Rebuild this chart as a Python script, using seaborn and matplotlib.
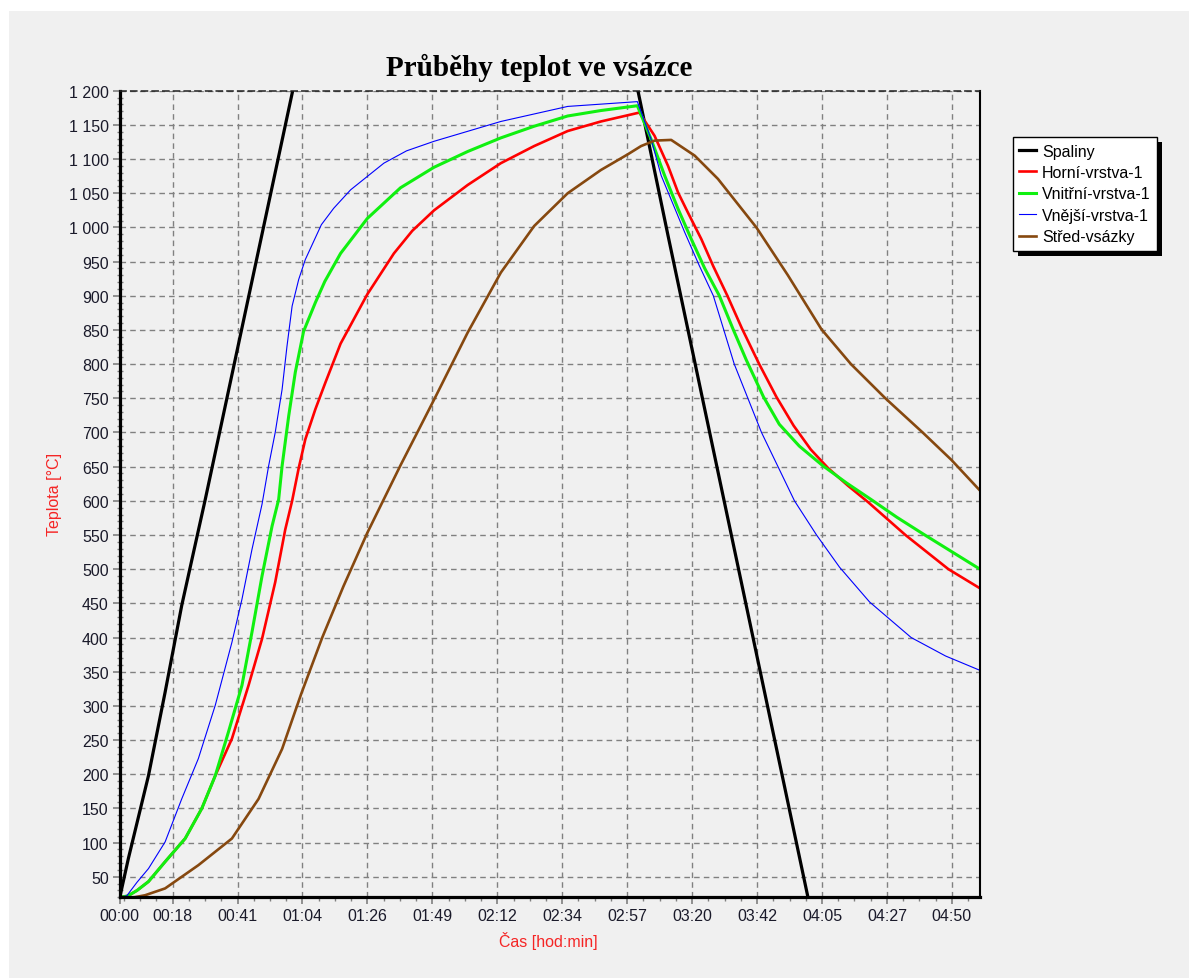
import matplotlib
matplotlib.use("Agg")
import matplotlib.pyplot as plt
from matplotlib.patches import Rectangle
from matplotlib.transforms import IdentityTransform
from matplotlib.ticker import FixedLocator, MultipleLocator
import seaborn as sns

# cas v minutach od zacatku ohrevu, teplota ve °C
spaliny_cas = [0, 3, 10, 15.8, 21.6, 29.8, 60.3, 63, 177.5, 180.7, 191.2, 240]
spaliny_tep = [20, 77, 198, 320, 447, 602, 1200, 1253, 1253, 1200, 988, 20]

horni_cas = [0, 2.8, 6, 10, 15.8, 22.8, 28.6, 33.3, 39.1, 44.9, 49.6, 54.2, 57.7, 60.1,
             62.4, 64.7, 68.2, 71.7, 77, 86.3, 95.6, 102, 109.6, 121.3, 132.9, 144.5, 156.2,
             167.8, 181.2, 186.5, 191.2, 194.7, 198.1, 202.8, 207, 211.9, 217, 223, 229,
             235, 241, 247, 254, 261, 274, 289, 300]
horni_tep = [20, 22, 30, 43, 72, 106, 150, 198, 252, 330, 398, 481, 558, 600,
             648, 690, 734, 773, 830, 902, 962, 995, 1025, 1062, 1094, 1119, 1141,
             1155, 1168, 1134, 1090, 1051, 1022, 983, 943, 900, 852, 800, 752,
             710, 675, 648, 622, 598, 550, 500, 472]

vnitrni_cas = [0, 2.8, 6, 10, 15.8, 22.8, 28.6, 33.3, 37.9, 42.6, 46.1, 49.6, 53.1, 55.4,
               56.6, 58.9, 61.2, 64.1, 68.2, 71.5, 77, 86.3, 97.9, 109.6, 121.3, 132.9,
               144.5, 156.2, 167.8, 180.5, 185.3, 190, 194.7, 199.3, 204, 209.1, 214, 218.5,
               224.5, 230, 237, 245, 253.5, 262, 271, 280, 290, 300]
vnitrni_tep = [20, 22, 30, 43, 72, 106, 150, 198, 262, 330, 408, 490, 563, 602,
               651, 724, 788, 848, 890, 921, 962, 1013, 1058, 1088, 1111, 1131,
               1148, 1163, 1171, 1178, 1129, 1076, 1027, 983, 940, 900, 850, 806,
               752, 712, 680, 652, 626, 602, 576, 552, 526, 500]

vnejsi_cas = [0, 2.4, 6, 10, 15.8, 21.6, 27.4, 33.3, 39.1, 42.6, 46.1, 49.6, 51.9, 54.2,
              56.6, 58.3, 60.1, 62.4, 64.7, 70.3, 74.6, 80.5, 92.1, 100, 109.6, 132.9, 156.2,
              180.5, 185.3, 188.8, 197, 202, 207, 214.3, 223.8, 235.3, 243, 251, 261.5,
              276, 288, 300]
vnejsi_tep = [20, 22, 42, 62, 101, 164, 223, 301, 393, 456, 529, 595, 651, 700,
              763, 826, 885, 924, 953, 1004, 1028, 1055, 1094, 1112, 1126, 1155, 1177,
              1184, 1129, 1076, 993, 945, 900, 800, 700, 600, 550, 503, 452,
              400, 373, 352]

stred_cas = [0, 5, 8.8, 15.8, 27.4, 39.1, 48.4, 56.6, 63.3, 70.6, 78, 86.3, 97.9,
             109.6, 121.3, 132.9, 144.5, 156.2, 167.8, 177.2, 181.8, 186.5, 192.3, 200.5,
             208.6, 222, 233, 244.7, 255, 267, 280, 290, 300]
stred_tep = [20, 20, 23, 33, 67, 106, 164, 237, 318, 400, 475, 553, 652,
             748, 846, 934, 1002, 1050, 1084, 1107, 1119, 1127, 1128, 1105,
             1071, 1000, 930, 851, 800, 750, 700, 660, 615]

nazvy = ["Spaliny", "Horní-vrstva-1", "Vnitřní-vrstva-1", "Vnější-vrstva-1", "Střed-vsázky"]
barvy = ["#000000", "#ff0000", "#10f010", "#0000ff", "#86480f"]
tloustky = [2.3, 1.9, 2.2, 0.8, 1.9]

x_ticks = [0, 18.4, 41.05, 63.7, 86.35, 109.0, 131.65, 154.3, 176.95, 199.6,
           222.25, 244.9, 267.55, 290.2]
x_labels = ["00:00", "00:18", "00:41", "01:04", "01:26", "01:49", "02:12", "02:34",
            "02:57", "03:20", "03:42", "04:05", "04:27", "04:50"]
y_ticks = list(range(50, 1201, 50))
y_labels = [f"{v:,}".replace(",", " ") for v in y_ticks]

plt.rcParams['font.family'] = ['Liberation Sans', 'DejaVu Sans']
sedo = "#f0f0f0"

fig = plt.figure(figsize=(11.89, 9.79), dpi=100, facecolor="white")
fig.add_artist(Rectangle((9 / 1189, 0), 1 - 9 / 1189, 967 / 979, transform=fig.transFigure,
                         facecolor=sedo, edgecolor="none", zorder=-10))
ax = fig.add_axes([0.10076, 0.08243, 0.72346, 0.82390])
ax.set_facecolor(sedo)

serie = [(spaliny_cas, spaliny_tep), (horni_cas, horni_tep), (vnitrni_cas, vnitrni_tep),
         (vnejsi_cas, vnejsi_tep), (stred_cas, stred_tep)]
for (t, T), nazev, barva, lw in zip(serie, nazvy, barvy, tloustky):
    sns.lineplot(x=t, y=T, color=barva, linewidth=lw, label=nazev, ax=ax,
                 estimator=None, sort=False)
if ax.get_legend():
    ax.get_legend().remove()

ax.set_xlim(0, 300)
ax.set_ylim(20, 1200)
ax.set_xticks(x_ticks, labels=x_labels)
ax.set_yticks(y_ticks, labels=y_labels)
ax.xaxis.set_minor_locator(FixedLocator([18.4 + k * 5.6625 for k in range(-3, 50)
                                         if 0 <= 18.4 + k * 5.6625 <= 300]))
ax.yaxis.set_minor_locator(MultipleLocator(10))
ax.set_xlabel("")
ax.set_ylabel("")

ax.grid(True, which="major", color="#808080", linestyle=(0, (4, 3)), linewidth=1.0)
ax.set_axisbelow(True)
ax.tick_params(which="major", length=5, width=1.2, color="#808080", labelsize=11.5,
               labelcolor="#1a1a2a", pad=3)
ax.tick_params(axis="x", which="minor", length=3, width=1, color="#808080", direction="out")
ax.tick_params(axis="y", which="minor", length=4, width=1, color="#808080", direction="inout")

for s in ["left", "bottom"]:
    ax.spines[s].set_linewidth(2.3)
    ax.spines[s].set_color("black")
ax.spines["right"].set_linewidth(1.5)
ax.spines["right"].set_color("black")
ax.spines["top"].set_linestyle((0, (4, 3)))
ax.spines["top"].set_linewidth(1.1)
ax.spines["top"].set_color("#202020")

fig.text(539 / 1189, 1 - 76 / 979, "Průběhy teplot ve vsázce", ha="center", va="baseline",
         fontsize=21, fontweight="bold", family="Liberation Serif")
fig.text(54 / 1189, 1 - 494 / 979, "Teplota [°C]", rotation=90, ha="center", va="center",
         color="#f52525", fontsize=11.5)
fig.text(548 / 1189, 1 - 941 / 979, "Čas [hod:min]", ha="center", va="center",
         color="#f52525", fontsize=11.5)

handles, labels = ax.get_legend_handles_labels()
leg = fig.legend(handles, labels, loc="upper left", bbox_to_anchor=(1012.7 / 1189, 1 - 138.3 / 979),
                 frameon=True, fancybox=False, edgecolor="black", facecolor="white", framealpha=1,
                 fontsize=11.5, handlelength=1.05, handletextpad=0.4, labelspacing=0.4,
                 borderpad=0.4, borderaxespad=0)
leg.get_frame().set_linewidth(1.0)

fig.canvas.draw()
bb = leg.get_window_extent()
fig.add_artist(Rectangle((bb.x0 + 5, bb.y0 - 5), bb.width, bb.height, transform=IdentityTransform(),
                         facecolor="black", edgecolor="none", zorder=leg.get_zorder() - 0.1))

fig.savefig("out.png", dpi=100)
